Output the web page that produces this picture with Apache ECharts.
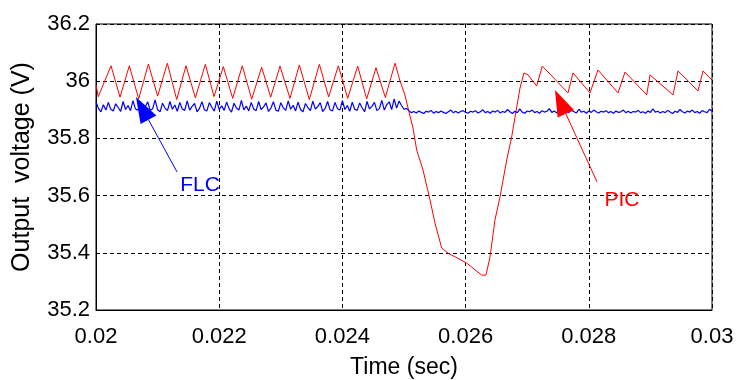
<!DOCTYPE html>
<html>
<head>
<meta charset="utf-8">
<script src="https://cdn.jsdelivr.net/npm/echarts@6/dist/echarts.min.js"></script>
<style>
  html, body { margin: 0; padding: 0; background: #fff; }
  #chart { width: 736px; height: 380px; }
</style>
</head>
<body>
<div id="chart"></div>
<script>
// x / y ticks
const xTicks = [0.02, 0.022, 0.024, 0.026, 0.028, 0.03];
const yTicks = [35.2, 35.4, 35.6, 35.8, 36, 36.2];

// PIC (red) - vertices
const picTime = [
  0.02, 0.020037, 0.020244, 0.020390, 0.020541, 0.020693, 0.020850, 0.021001,
  0.021158, 0.021310, 0.021461, 0.021613, 0.021775, 0.021916, 0.022067, 0.022219,
  0.022375, 0.022527, 0.022689, 0.022836, 0.022987, 0.023149, 0.023301, 0.023463,
  0.023626, 0.023777, 0.023934, 0.024086, 0.024248, 0.024394, 0.024545, 0.024697,
  0.024854, 0.024935, 0.025010, 0.025040, 0.025146, 0.025206, 0.025308, 0.025422,
  0.025503, 0.025612, 0.025714, 0.026018, 0.026261, 0.026331, 0.026396, 0.026477,
  0.026558, 0.026667, 0.026748, 0.026830, 0.026883, 0.026948, 0.027013, 0.027154,
  0.027245, 0.027662, 0.027744, 0.028019, 0.028149, 0.028474, 0.028588, 0.028940,
  0.028994, 0.029005, 0.029367, 0.029448, 0.029480, 0.029773, 0.029854, 0.03
];
const picVolt = [
  35.987, 35.946, 36.054, 35.944, 36.054, 35.938, 36.060, 35.948,
  36.063, 35.936, 36.054, 35.942, 36.059, 35.946, 36.051, 35.940,
  36.054, 35.937, 36.049, 35.944, 36.053, 35.940, 36.057, 35.936,
  36.059, 35.945, 36.054, 35.940, 36.053, 35.938, 36.047, 35.943,
  36.063, 36.001, 35.955, 35.952, 35.836, 35.759, 35.690, 35.585,
  35.504, 35.417, 35.399, 35.364, 35.322, 35.322, 35.385, 35.515,
  35.595, 35.724, 35.805, 35.910, 35.976, 36.029, 36.022, 35.983,
  36.053, 35.959, 36.029, 35.959, 36.039, 35.959, 36.032, 35.952,
  36.022, 36.024, 35.952, 36.036, 36.034, 35.966, 36.036, 36.004
];

// FLC (blue) - sampled every 0.04 ms from 0.02 s
const flcStart = 0.02;
const flcStep = 0.00004;
const flcVolt = [
  35.927, 35.905, 35.893, 35.918, 35.899, 35.926, 35.902, 35.896, 35.921, 35.908,
  35.894, 35.929, 35.901, 35.915, 35.897, 35.932, 35.903, 35.899, 35.924, 35.894,
  35.911, 35.928, 35.898, 35.904, 35.935, 35.900, 35.893, 35.923, 35.906, 35.897,
  35.929, 35.902, 35.917, 35.895, 35.926, 35.903, 35.898, 35.931, 35.899, 35.912,
  35.922, 35.893, 35.905, 35.928, 35.900, 35.896, 35.925, 35.909, 35.895, 35.930,
  35.901, 35.914, 35.898, 35.927, 35.904, 35.892, 35.923, 35.906, 35.899, 35.933,
  35.900, 35.913, 35.896, 35.926, 35.903, 35.897, 35.929, 35.901, 35.910, 35.924,
  35.894, 35.906, 35.928, 35.899, 35.895, 35.925, 35.907, 35.898, 35.931, 35.902,
  35.916, 35.896, 35.927, 35.901, 35.893, 35.922, 35.908, 35.897, 35.930, 35.903,
  35.911, 35.925, 35.894, 35.905, 35.929, 35.900, 35.896, 35.926, 35.904, 35.899,
  35.932, 35.901, 35.915, 35.895, 35.927, 35.902, 35.898, 35.924, 35.907, 35.893,
  35.929, 35.903, 35.912, 35.926, 35.897, 35.904, 35.933, 35.899, 35.918, 35.928,
  35.901, 35.938, 35.906, 35.931, 35.915, 35.902,
  35.905, 35.897, 35.890, 35.894,
  35.889, 35.896, 35.891, 35.887, 35.895, 35.892, 35.898, 35.888, 35.894, 35.890,
  35.896, 35.891, 35.887, 35.893, 35.899, 35.890, 35.895, 35.889, 35.894, 35.897,
  35.891, 35.888, 35.895, 35.892, 35.897, 35.889, 35.893, 35.900, 35.890, 35.894,
  35.888, 35.896, 35.892, 35.898, 35.889, 35.894, 35.891, 35.901, 35.893, 35.887,
  35.895, 35.890, 35.903, 35.892, 35.888, 35.896, 35.893, 35.899, 35.890, 35.894,
  35.888, 35.897, 35.892, 35.895, 35.904, 35.891, 35.896, 35.889, 35.899, 35.893,
  35.887, 35.895, 35.891, 35.898, 35.893, 35.889, 35.902, 35.892, 35.895, 35.888,
  35.896, 35.891, 35.899, 35.893, 35.889, 35.895, 35.892, 35.897, 35.890, 35.894,
  35.888, 35.896, 35.891, 35.893, 35.899, 35.890, 35.895, 35.889, 35.894, 35.892,
  35.898, 35.890, 35.893, 35.888, 35.896, 35.891, 35.903, 35.892, 35.895, 35.889,
  35.894, 35.890, 35.898, 35.892, 35.887, 35.895, 35.891, 35.901, 35.893, 35.889,
  35.896, 35.892, 35.899, 35.890, 35.894, 35.888, 35.897, 35.893, 35.890, 35.902,
  35.895
];

// annotation arrows: label centre, line tail, arrow tip (data coords)
const notes = [
  { text: 'FLC', color: '#0000ff', label: [0.021688, 35.637], tail: [0.021315, 35.683], tip: [0.020649, 35.945] },
  { text: 'PIC', color: '#ff0000', label: [0.028539, 35.585], tail: [0.028133, 35.648], tip: [0.027451, 35.969] }
];

const picData = picTime.map((t, i) => [t, picVolt[i]]);
const flcData = flcVolt.map((v, i) => [flcStart + i * flcStep, v]);

const chart = echarts.init(document.getElementById('chart'));
const font = 'Liberation Sans, Arial, sans-serif';

chart.setOption({
  animation: false,
  grid: { left: 96, right: 24, top: 24, bottom: 70, show: true, borderColor: '#000', borderWidth: 1,
    outerBoundsMode: 'none' },
  xAxis: {
    type: 'value',
    min: xTicks[0], max: xTicks[xTicks.length - 1], interval: 0.002,
    name: 'Time (sec)', nameLocation: 'middle', nameGap: 46,
    nameTextStyle: { fontFamily: font, fontSize: 23, color: '#000' },
    axisLine: { lineStyle: { color: '#000' } },
    axisTick: { show: false },
    axisLabel: { fontFamily: font, fontSize: 22, color: '#000', margin: 16,
      formatter: v => String(+v.toFixed(3)) },
    splitLine: { lineStyle: { color: '#000', type: [4, 3], width: 1 } }
  },
  yAxis: {
    type: 'value',
    min: yTicks[0], max: yTicks[yTicks.length - 1], interval: 0.2,
    name: 'Output  voltage (V)', nameLocation: 'middle', nameGap: 61,
    nameTextStyle: { fontFamily: font, fontSize: 25, color: '#000' },
    axisLine: { show: true, lineStyle: { color: '#000' } },
    axisTick: { show: false },
    axisLabel: { fontFamily: font, fontSize: 22, color: '#000', margin: 6,
      formatter: v => String(+v.toFixed(1)) },
    splitLine: { lineStyle: { color: '#000', type: [4, 3], width: 1 } }
  },
  series: [
    { name: 'PIC', type: 'line', data: picData, showSymbol: false,
      lineStyle: { color: '#ff0000', width: 1 }, z: 3 },
    { name: 'FLC', type: 'line', data: flcData, showSymbol: false,
      lineStyle: { color: '#0000ff', width: 1.2 }, z: 4 }
  ]
});

// arrows + labels, positioned through the grid's scales
const toPx = p => chart.convertToPixel({ gridIndex: 0 }, p);
const graphics = [];
notes.forEach(n => {
  const tip = toPx(n.tip), tail = toPx(n.tail), lab = toPx(n.label);
  const dx = tip[0] - tail[0], dy = tip[1] - tail[1];
  const len = Math.hypot(dx, dy);
  const ux = dx / len, uy = dy / len;
  const headLen = 26, headHalf = 9;
  const bx = tip[0] - ux * headLen, by = tip[1] - uy * headLen;
  graphics.push({
    type: 'line', z: 10,
    shape: { x1: tail[0], y1: tail[1], x2: bx, y2: by },
    style: { stroke: n.color, lineWidth: 1 }
  });
  graphics.push({
    type: 'polygon', z: 10,
    shape: { points: [tip, [bx - uy * headHalf, by + ux * headHalf], [bx + uy * headHalf, by - ux * headHalf]] },
    style: { fill: n.color }
  });
  graphics.push({
    type: 'text', z: 10, x: lab[0], y: lab[1],
    style: { text: n.text, fill: n.color, font: '21px ' + font, align: 'center', verticalAlign: 'middle' }
  });
});
chart.setOption({ graphic: graphics });
</script>
</body>
</html>
